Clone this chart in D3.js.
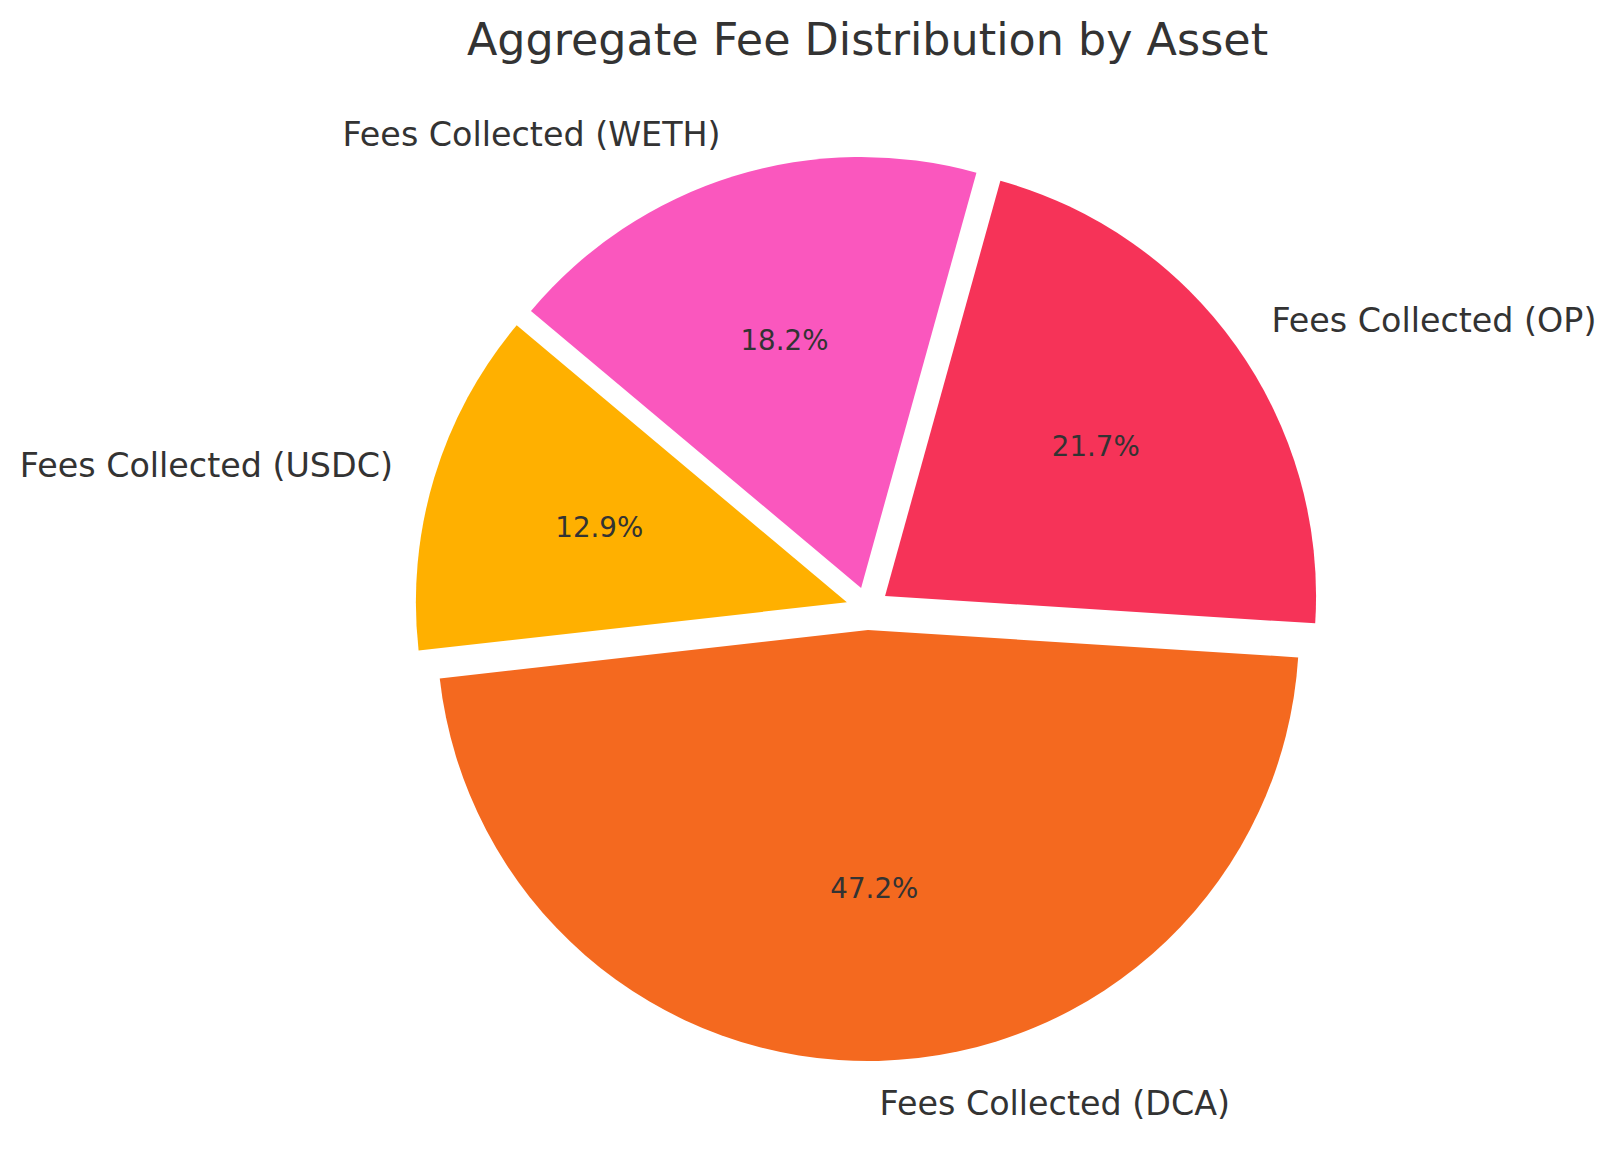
<!DOCTYPE html>
<html>
<head>
<meta charset="utf-8">
<script src="https://cdn.jsdelivr.net/npm/d3@7"></script>
<style>
html,body{margin:0;padding:0;background:#fff;}
svg{display:block;}
text{font-family:"DejaVu Sans",sans-serif;fill:#333333;}
</style>
</head>
<body>
<div id="chart"></div>
<script>
const categories = ["Fees Collected (USDC)", "Fees Collected (DCA)", "Fees Collected (OP)", "Fees Collected (WETH)"];
const shares = [12.9, 47.2, 21.7, 18.2];
const colours = ["#FFB000", "#F4691F", "#F63358", "#FA57BE"];
const chartTitle = "Aggregate Fee Distribution by Asset";

const W = 1616, H = 1167;
const cx = 867.5, cy = 608.5, R = 431;
const explode = 0.05, labelDist = 1.1, pctDist = 0.6;
const startDeg = 140;

const svg = d3.select("#chart").append("svg").attr("width", W).attr("height", H).attr("viewBox", `0 0 ${W} ${H}`);

const start = (90 - startDeg) * Math.PI / 180;
const pie = d3.pie().sort(null).value(d => d.v).startAngle(start).endAngle(start - 2 * Math.PI);
const arc = d3.arc().innerRadius(0).outerRadius(R);
const slices = pie(categories.map((c, i) => ({c, v: shares[i], col: colours[i]})));
const polar = (d, r) => {
  const a = (d.startAngle + d.endAngle) / 2;
  return [r * Math.sin(a), -r * Math.cos(a)];
};

const root = svg.append("g").attr("transform", `translate(${cx},${cy})`);
const g = root.selectAll("g.slice").data(slices).join("g").attr("class", "slice")
  .attr("transform", d => { const [x, y] = polar(d, explode * R); return `translate(${x},${y})`; });

g.append("path").attr("d", arc).attr("fill", d => d.data.col);

g.append("text").attr("class", "pct")
  .attr("x", d => polar(d, pctDist * R)[0])
  .attr("y", d => polar(d, pctDist * R)[1])
  .attr("dy", "0.345em")
  .attr("text-anchor", "middle")
  .attr("font-size", 27.7)
  .text(d => d3.format(".1f")(d.data.v) + "%");

g.append("text").attr("class", "lab")
  .attr("x", d => polar(d, labelDist * R)[0])
  .attr("y", d => polar(d, labelDist * R)[1])
  .attr("dy", "0.335em")
  .attr("text-anchor", d => polar(d, labelDist * R)[0] > 0 ? "start" : "end")
  .attr("font-size", 33.33)
  .text(d => d.data.c);

svg.append("text").attr("x", cx).attr("y", 54.5)
  .attr("text-anchor", "middle").attr("font-size", 44.44)
  .text(chartTitle);
</script>
</body>
</html>
